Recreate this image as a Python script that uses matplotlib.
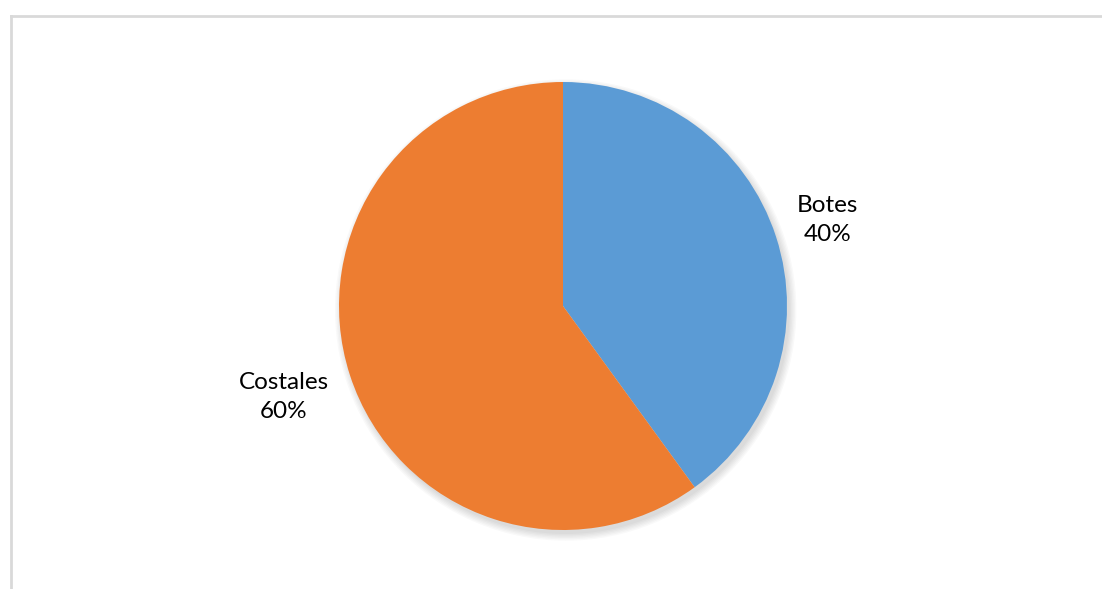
import matplotlib.pyplot as plt
from matplotlib.patches import Circle
from matplotlib.lines import Line2D

# data
labels = ['Botes', 'Costales']
values = [40, 60]
colors = ['#5B9BD5', '#ED7D31']

W, H = 1102, 589
fig = plt.figure(figsize=(W / 100, H / 100), dpi=100)

# chart area frame (only top and left edges visible)
fig.add_artist(Line2D([10.5 / W, 1], [1 - 15.5 / H, 1 - 15.5 / H], color='#d9d9d9', lw=2))
fig.add_artist(Line2D([10.5 / W, 10.5 / W], [0, 1 - 15.5 / H], color='#d9d9d9', lw=2))

ax = fig.add_axes([339 / W, 59 / H, 448 / W, 448 / H])

# soft shadow under the pie
for i in range(6):
    ax.add_patch(Circle((0.012, -0.018), 1.0 + 0.006 * i, color='black',
                        alpha=0.022, lw=0, zorder=0, clip_on=False))

texts = [f'{l}\n{v}%' for l, v in zip(labels, values)]
wedges, txts = ax.pie(values, labels=texts, colors=colors, startangle=90,
                      counterclock=False, labeldistance=1.0,
                      textprops=dict(ha='center', va='center', ma='center',
                                     fontsize=17.5, family='Lato', color='black',
                                     linespacing=1.45))
# excel "best fit" puts the labels at slightly different distances
for t, d in zip(txts, [1.24, 1.31]):
    x, y = t.get_position()
    t.set_position((x * d, y * d))
for w in wedges:
    w.set_zorder(2)
ax.set_xlim(-1, 1)
ax.set_ylim(-1, 1)
ax.set_aspect('equal')
ax.axis('off')

fig.savefig('out.png', dpi=100)
